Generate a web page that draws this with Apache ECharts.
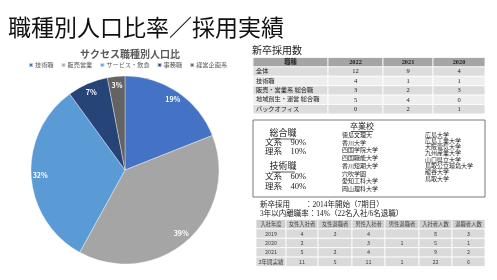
<!DOCTYPE html>
<html>
<head>
<meta charset="utf-8">
<script src="https://cdn.jsdelivr.net/npm/echarts@6/dist/echarts.min.js"></script>
<style>
html,body{margin:0;padding:0;background:#fff;}
#main{width:497px;height:280px;}
</style>
</head>
<body>
<div id="main"></div>
<script>
// 円グラフのデータ
var jobNames = ['技術職', '販売営業', 'サービス・飲食', '事務職', '経営企画系'];
var jobShare = [19, 39, 32, 7, 3];
var jobColors = ['#4472C4', '#A5A5A5', '#5B9BD5', '#264478', '#636363'];

// 新卒採用数
var hireHead = ['職種', '2022', '2021', '2020'];
var hireRows = ['全体', '技術職', '販売・営業系 総合職', '地域創生・運営 総合職', 'バックオフィス'];
var hire2022 = [12, 4, 3, 5, 0];
var hire2021 = [9, 1, 2, 4, 2];
var hire2020 = [4, 1, 3, 0, 1];

// 卒業校
var schoolsA = ['徳島文理大', '香川大学', '四国学院大学', '四国職能大学', '香川短期大学', '穴吹学園', '愛知工科大学', '岡山理科大学'];
var schoolsB = ['広島大学', '広島工業大学', '大阪電気大学', '九州産業大学', '山口県立大学', '鳥取公立環境大学', '龍谷大学', '鳥取大学'];

// 入社・退職実績
var yearHead = ['入社年度', '女性入社者', '女性退職者', '男性入社者', '男性退職者', '入社者人数', '退職者人数'];
var yearRows = ['2019', '2020', '2021', '3年間実績'];
var femaleIn = [4, 2, 5, 11];
var femaleOut = [3, '', 2, 5];
var maleIn = [4, 3, 4, 11];
var maleOut = ['', 1, '', 1];
var totalIn = [8, 5, 9, 22];
var totalOut = [3, 1, 2, 6];

var serif = "'Liberation Serif', 'Noto Sans CJK JP', serif";
var sans = "'Noto Sans CJK JP', sans-serif";

var g = [];

function txt(x, y, s, opt) {
  opt = opt || {};
  g.push({
    type: 'text', x: x, y: y, silent: true,
    style: {
      text: String(s), fill: opt.color || '#222', fontSize: opt.size || 7,
      fontFamily: opt.font || serif, fontWeight: opt.weight || 'normal',
      textAlign: opt.align || 'left', textVerticalAlign: 'middle'
    }
  });
}
function rect(x, y, w, h, fill, stroke, lw) {
  g.push({
    type: 'rect', silent: true, shape: {x: x, y: y, width: w, height: h},
    style: {fill: fill || 'none', stroke: stroke || null, lineWidth: lw || 1}
  });
}
function line(x1, y1, x2, y2, color) {
  g.push({
    type: 'line', silent: true, shape: {x1: x1, y1: y1, x2: x2, y2: y2},
    style: {stroke: color || '#333', lineWidth: 0.8}
  });
}

// 新卒採用数テーブル
txt(252, 51, '新卒採用数', {size: 10});
var tx = [253, 328, 383, 433, 485];
var ty0 = 57.5, trh = 9.4;
for (var c = 0; c < 4; c++) {
  rect(tx[c], ty0, tx[c + 1] - tx[c], trh, '#A5A5A5', '#fff', 0.8);
  txt((tx[c] + tx[c + 1]) / 2, ty0 + trh / 2, hireHead[c], {align: 'center', weight: 'bold', size: 6.3});
}
var hireCols = [hire2022, hire2021, hire2020];
for (var r = 0; r < hireRows.length; r++) {
  var y = ty0 + trh * (r + 1);
  var bg = r % 2 === 0 ? '#DCDCDC' : '#EEEEEE';
  for (var c = 0; c < 4; c++) rect(tx[c], y, tx[c + 1] - tx[c], trh, bg, '#fff', 0.8);
  txt(tx[0] + 3, y + trh / 2, hireRows[r], {size: 6.2});
  for (var c = 0; c < 3; c++) {
    txt((tx[c + 1] + tx[c + 2]) / 2, y + trh / 2, hireCols[c][r], {align: 'center', size: 6.5});
  }
}

// 卒業校ボックス
rect(253, 120, 232, 77, '#fff', '#555', 0.8);
txt(283, 134, '総合職', {align: 'center', size: 9});
line(272, 139, 295, 139);
txt(265, 142.5, '文系　90%', {size: 8.5});
txt(265, 151.5, '理系　10%', {size: 8.5});
txt(283, 167, '技術職', {align: 'center', size: 9});
line(272, 172, 295, 172);
txt(265, 177, '文系　60%', {size: 8.5});
txt(265, 186.5, '理系　40%', {size: 8.5});
txt(362, 127, '卒業校', {align: 'center', size: 8});
line(351, 131.5, 373, 131.5);
for (var i = 0; i < schoolsA.length; i++) txt(342, 135.5 + i * 7.7, schoolsA[i], {size: 6});
for (var i = 0; i < schoolsB.length; i++) txt(425, 135 + i * 6.3, schoolsB[i], {size: 6});

// 採用概要
txt(260, 205, '新卒採用　　：2014年開始（7期目）', {size: 7.5});
txt(260, 214, '3年以内離職率：14%（22名入社/6名退職）', {size: 7.5});

// 入社・退職テーブル
var bx = [256, 286, 318, 352, 385, 419, 452, 485];
var by0 = 219.5, brh = 9.4;
for (var c = 0; c < 7; c++) {
  rect(bx[c], by0, bx[c + 1] - bx[c], brh, '#CFCFCF', '#fff', 0.8);
  txt((bx[c] + bx[c + 1]) / 2, by0 + brh / 2, yearHead[c], {align: 'center', size: 5.3, font: sans, color: '#444'});
}
var yearCols = [yearRows, femaleIn, femaleOut, maleIn, maleOut, totalIn, totalOut];
for (var r = 0; r < yearRows.length; r++) {
  var y = by0 + brh * (r + 1);
  for (var c = 0; c < 7; c++) {
    rect(bx[c], y, bx[c + 1] - bx[c], brh, '#DADADA', '#fff', 0.8);
    txt((bx[c] + bx[c + 1]) / 2, y + brh / 2, yearCols[c][r], {align: 'center', size: 5.5, font: sans, color: '#444'});
  }
}

// タイトル
txt(8, 27.5, '職種別人口比率／採用実績', {size: 23, font: sans, color: '#111'});

var pieData = jobNames.map(function (n, i) {
  return {name: n, value: jobShare[i], itemStyle: {color: jobColors[i]}};
});

var chart = echarts.init(document.getElementById('main'), null, {renderer: 'canvas'});
chart.setOption({
  animation: false,
  backgroundColor: '#fff',
  title: {
    text: 'サクセス職種別人口比',
    left: 125, top: 44, textAlign: 'center',
    textStyle: {fontSize: 10, color: '#595959', fontWeight: 'bold', fontFamily: sans}
  },
  legend: {
    data: jobNames,
    left: 28, top: 62, padding: 0,
    itemWidth: 4, itemHeight: 4, itemGap: 7,
    icon: 'rect',
    textStyle: {fontSize: 6.2, color: '#595959', fontFamily: sans, padding: [0, 0, 0, -3]}
  },
  series: [
    {
      type: 'pie',
      center: [125, 170],
      radius: 94,
      startAngle: 90,
      clockwise: true,
      silent: true,
      label: {show: false},
      labelLine: {show: false},
      itemStyle: {borderColor: 'rgba(255,255,255,0.6)', borderWidth: 0.6},
      data: pieData
    },
    {
      // ラベル用（外周寄りに配置するため透明なリング）
      type: 'pie',
      center: [125, 170],
      radius: [70, 94],
      startAngle: 90,
      clockwise: true,
      silent: true,
      legendHoverLink: false,
      itemStyle: {color: 'rgba(0,0,0,0)'},
      label: {
        show: true, position: 'inside', formatter: '{d}%',
        color: '#fff', fontSize: 7, fontWeight: 'bold', fontFamily: sans
      },
      labelLine: {show: false},
      data: jobNames.map(function (n, i) { return {name: n, value: jobShare[i], itemStyle: {color: 'rgba(0,0,0,0)'}}; })
    }
  ],
  graphic: {elements: g}
});
</script>
</body>
</html>
